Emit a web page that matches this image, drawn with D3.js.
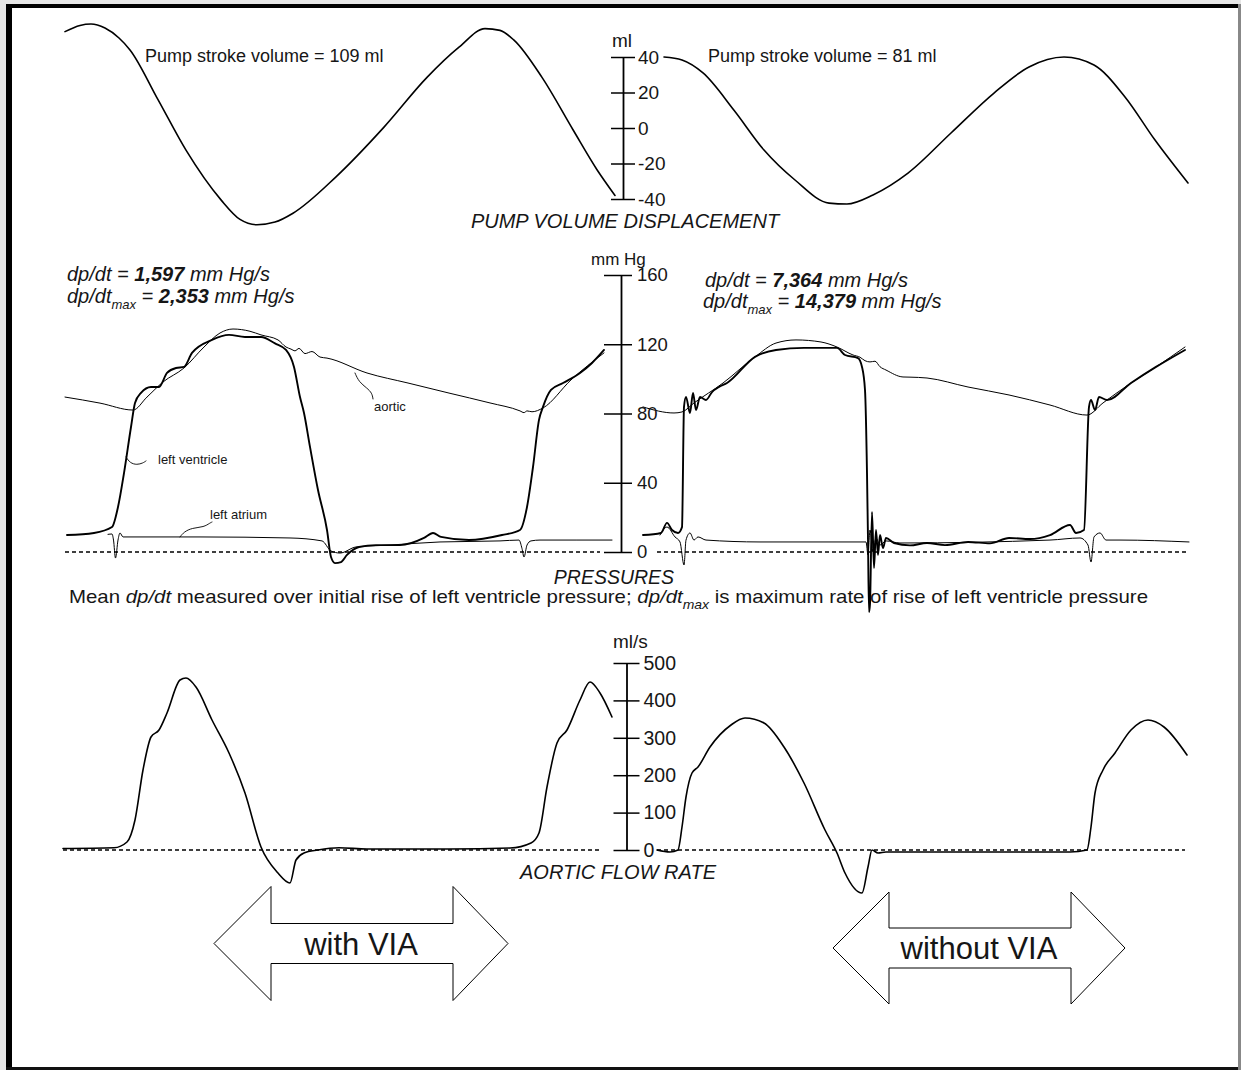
<!DOCTYPE html>
<html><head><meta charset="utf-8">
<script src="https://cdn.jsdelivr.net/npm/d3@7"></script>
<style>
body{margin:0;background:#fff}
svg{display:block}
text{font-family:"Liberation Sans",Arial,Helvetica,sans-serif;fill:#161616}
</style>
</head><body>
<svg id="c" width="1241" height="1070"></svg>
<script>
// ---------- DATA (time in ms within each recording window) ----------
const volTicks = [-40, -20, 0, 20, 40];
const pressTicks = [0, 40, 80, 120, 160];
const flowTicks = [0, 100, 200, 300, 400, 500];

// Pump volume displacement (ml)
const volWith = [[10,54.3],[40,57.8],[62,58.6],[90,56.3],[118,50.7],[140,44],[196,16],[252,-12.5],[322,-40.5],[360,-51.5],[394,-54.5],[430,-53],[466,-48],[552,-27.5],[648,0.5],[734,28.5],[798,45.5],[850,56],[880,55],[908,49.5],[964,28.5],[1026,-1],[1074,-23.5],[1110,-38]];
const volWithout = [[68,40],[104,38.3],[146,31],[208,10],[268,-12.4],[330,-29.3],[398,-42.3],[434,-42.8],[486,-37.7],[556,-25.4],[642,-2.8],[728,19.7],[798,34.4],[868,40],[928,35.5],[990,17.5],[1050,-6.8],[1116,-31]];

// Pressures (mm Hg) - with VIA
const aorticWith = [[10,89.5],[80,86],[146,82],[174,89.5],[206,98.2],[248,106.3],[288,118.4],[320,126.5],[346,128.8],[380,127.5],[402,125.4],[436,122.5],[452,118.4],[462,117.2],[470,116.2],[478,117.6],[490,114.6],[504,115.8],[520,112.6],[534,112],[614,103.4],[696,97.6],[778,91.8],[860,86.1],[920,81.5],[928,80.5],[934,81.5],[944,81],[966,83.2],[1022,99.4],[1088,115]];
const lvWith = [[14,9.8],[68,11],[104,14.4],[116,26],[128,45.6],[142,72.2],[150,86.1],[162,91.9],[182,95.3],[198,95.3],[214,103.4],[232,106.3],[248,106.9],[264,115],[304,122.5],[338,125.4],[370,124.2],[402,124.2],[430,120.5],[452,116.7],[468,106.9],[480,89.5],[488,80.3],[500,60.7],[516,35.8],[534,12.7],[542,-2.9],[550,-6.4],[562,-5.8],[574,-1.7],[598,2.9],[632,4],[680,4],[728,8.1],[746,11],[762,8.7],[818,6.9],[884,9.8],[920,12.7],[934,26],[946,49.1],[958,76.3],[966,83.8],[982,93.6],[1006,97.6],[1040,103.4],[1064,109.2],[1088,116.7]];
const laWith = [[96,10.2],[104,10.4],[107,6.9],[111,-3.5],[116,6.9],[120,11],[126,8.7],[280,8.7],[460,8.1],[524,6.4],[542,0.6],[560,-0.6],[592,2.9],[660,4],[760,5.8],[880,6.4],[918,6.9],[924,2],[928,-2.9],[934,4],[942,6.4],[960,6.9],[1104,6.9]];

// Pressures (mm Hg) - without VIA
const aorticWithout = [[26,83.8],[88,80.3],[104,80.9],[128,86.1],[186,97.6],[250,112.7],[292,120.7],[332,122.5],[382,121.3],[414,118.4],[446,113.8],[460,112.5],[470,110.5],[480,109.8],[490,110.2],[500,107],[512,105.1],[546,101.1],[560,101],[594,100.5],[676,95.3],[758,90.7],[840,84.9],[914,79.1],[946,86.1],[1002,97.6],[1052,106.9],[1110,118.4]];
const lvWithout = [[26,9.8],[62,11],[74,16.8],[84,12.7],[96,11],[104,14.4],[108,83.8],[112,89.5],[120,80.3],[126,91.9],[132,82],[140,89.5],[152,87.8],[164,92.4],[178,95.3],[194,97.6],[250,112.7],[292,116.7],[348,117.9],[414,117.9],[430,113.8],[456,112],[464,106.9],[470,93.6],[474,45.6],[476,6.9],[478,-34.7],[480,-30],[484,23.1],[488,-9.2],[492,12.7],[496,-1.7],[500,9.8],[506,2.3],[512,8.1],[528,5.2],[560,3.8],[594,5.2],[630,4],[676,5.8],[720,5],[758,8.1],[800,7.5],[840,9.8],[880,15.6],[892,11],[908,12.7],[918,83.8],[922,87.8],[930,82],[938,89.5],[954,87.8],[1002,97.6],[1052,106.9],[1110,116.7]];
const laWithout = [[60,9.8],[74,14.4],[90,8.7],[100,5.8],[108,-7.5],[112,6.9],[120,11],[128,6.9],[136,8.7],[152,6.9],[260,5.8],[472,5.8],[476,-1.7],[480,12.7],[486,0],[492,8.1],[500,4],[512,6.4],[540,5.2],[840,6.9],[900,8.1],[916,4],[922,-5.8],[928,8.7],[940,11],[952,6.9],[980,6.9],[1118,5.8]];

// Aortic flow rate (ml/s)
const flowWith = [[6,4],[108,6],[134,21.4],[150,80.2],[166,213.9],[182,302.1],[198,320.9],[214,366.3],[240,454.5],[252,459.9],[272,435.8],[304,347.6],[338,259.4],[370,152.4],[402,8],[436,-61.5],[460,-88.2],[472,-26.7],[488,-8],[516,0],[558,6],[614,2.7],[778,2.7],[900,5.3],[942,18.7],[958,45.5],[974,168.4],[994,286.1],[1014,320.9],[1040,401.1],[1060,449.2],[1080,419.8],[1104,355.6]];
const flowWithout = [[54,0],[80,-5.3],[96,0],[104,61.5],[112,141.7],[124,205.9],[136,221.9],[160,275.4],[202,334.2],[230,352.9],[268,339.6],[308,275.4],[348,179.1],[390,53.5],[414,-8],[430,-61.5],[464,-115],[476,-45.5],[484,0],[496,-8],[512,-5.3],[594,-5.3],[758,-5.3],[880,-5.3],[914,0],[922,61.5],[930,152.4],[946,213.9],[970,259.4],[1002,320.9],[1036,347.6],[1068,328.9],[1114,254]];

// zero reference spans (ms)
const zeroPressWith = [10, 1080], zeroPressWithout = [54, 1114];
const zeroFlowWith = [6, 1080], zeroFlowWithout = [54, 1110];

// annotations (left window)
const aorticLeader = [[590,103.4],[598,98.2],[614,94.7],[624,91.8],[626,88.4]];
const lvLeader = [[132,54.9],[140,51.4],[154,50.3],[166,51.4],[172,52.6]];
const laLeader = [[240,8.7],[248,11.6],[264,13.9],[288,14.4],[300,16.8],[304,17.3]];
const annLabels = [{t:628,p:81.5,text:"aortic"},{t:196,p:50.8,text:"left ventricle"},{t:300,p:19,text:"left atrium"}];

// ---------- CHART ----------
const svg = d3.select('#c');
svg.append('rect').attr('width',1241).attr('height',1070).attr('fill','#fff');

const xL = d3.scaleLinear().domain([0,1100]).range([60,610]);
const xR = d3.scaleLinear().domain([0,1120]).range([630,1190]);
const yVol = d3.scaleLinear().domain([-40,40]).range([199,57]);
const yP = d3.scaleLinear().domain([0,160]).range([552,275]);
const yF = d3.scaleLinear().domain([0,500]).range([850,663]);

function trace(x, y, data, w, curve) {
  const line = d3.line().x(d=>x(d[0])).y(d=>y(d[1])).curve(curve || d3.curveMonotoneX);
  return svg.append('path').datum(data).attr('d', line)
    .attr('fill','none').attr('stroke','#000').attr('stroke-width',w)
    .attr('stroke-linejoin','round').attr('stroke-linecap','round');
}
function zero(x, y, span) {
  svg.append('line').attr('x1',x(span[0])).attr('x2',x(span[1]))
    .attr('y1',y(0)).attr('y2',y(0))
    .attr('stroke','#000').attr('stroke-width',1.3).attr('stroke-dasharray','4,3');
}
function axis(x0, y, ticks, left, right, pad, fs) {
  const g = svg.append('g').attr('transform',`translate(${x0},0)`)
    .call(d3.axisRight(y).tickValues(ticks).tickSize(right).tickSizeOuter(0)
      .tickPadding(pad).tickFormat(d=>String(d)));
  g.attr('font-family',null).attr('font-size',null);
  g.select('.domain').attr('stroke','#000').attr('stroke-width',1.8);
  g.selectAll('.tick line').attr('x1',-left).attr('stroke','#000').attr('stroke-width',1.5);
  g.selectAll('.tick text').attr('font-size',fs).attr('fill','#161616');
}
function txt(x, y, s, fs, opts) {
  opts = opts || {};
  const t = svg.append('text').attr('x',x).attr('y',y).attr('font-size',fs).text(s);
  if (opts.italic) t.attr('font-style','italic');
  if (opts.anchor) t.attr('text-anchor',opts.anchor);
  return t;
}

// frame
svg.append('rect').attr('x',0).attr('y',0).attr('width',6).attr('height',1070).attr('fill','#e6e6e6');
svg.append('rect').attr('x',0).attr('y',0).attr('width',1241).attr('height',4).attr('fill','#e6e6e6');
svg.append('rect').attr('x',6).attr('y',4).attr('width',1235).attr('height',4).attr('fill','#000');
svg.append('rect').attr('x',6).attr('y',4).attr('width',6).attr('height',1066).attr('fill','#000');
svg.append('rect').attr('x',6).attr('y',1067).attr('width',1235).attr('height',3).attr('fill','#111');
svg.append('rect').attr('x',1238).attr('y',4).attr('width',3).attr('height',1066).attr('fill','#888');

// ---- pump volume ----
trace(xL, yVol, volWith, 1.6);
trace(xR, yVol, volWithout, 1.6);
axis(623, yVol, volTicks, 12, 12, 3, 19);
txt(612, 47, 'ml', 19);
txt(145, 62, 'Pump stroke volume = 109 ml', 18);
txt(708, 62, 'Pump stroke volume = 81 ml', 18);
txt(625, 228, 'PUMP VOLUME DISPLACEMENT', 20, {italic:true, anchor:'middle'});

// ---- pressures ----
zero(xL, yP, zeroPressWith);
zero(xR, yP, zeroPressWithout);
trace(xL, yP, aorticWith, 1.0);
trace(xL, yP, laWith, 1.0);
trace(xL, yP, lvWith, 1.9);
trace(xR, yP, aorticWithout, 1.0);
trace(xR, yP, laWithout, 1.0);
trace(xR, yP, lvWithout, 1.9);
axis(621, yP, pressTicks, 17, 11, 5, 18.5);
txt(591, 265, 'mm Hg', 17);

// annotations
[aorticLeader, lvLeader, laLeader].forEach(d => trace(xL, yP, d, 0.9, d3.curveBasis));
annLabels.forEach(a => txt(xL(a.t), yP(a.p), a.text, 13));

function dpLine(x, y, sub, num) {
  const t = svg.append('text').attr('x',x).attr('y',y).attr('font-size',20).attr('font-style','italic');
  t.append('tspan').text('dp/dt');
  if (sub) {
    t.append('tspan').attr('font-size',13).attr('dy',6).text('max');
    t.append('tspan').attr('dy',-6).text(' = ');
  } else {
    t.append('tspan').text(' = ');
  }
  t.append('tspan').attr('font-weight','bold').text(num);
  t.append('tspan').text(' mm Hg/s');
}
dpLine(67, 281, false, '1,597');
dpLine(67, 303, true, '2,353');
dpLine(705, 287, false, '7,364');
dpLine(703, 308, true, '14,379');

txt(614, 584, 'PRESSURES', 19.5, {italic:true, anchor:'middle'});
{
  const t = svg.append('text').attr('x',69).attr('y',603).attr('font-size',19)
    .attr('textLength',1079).attr('lengthAdjust','spacingAndGlyphs');
  t.append('tspan').text('Mean ');
  t.append('tspan').attr('font-style','italic').text('dp/dt');
  t.append('tspan').text(' measured over initial rise of left ventricle pressure; ');
  t.append('tspan').attr('font-style','italic').text('dp/dt');
  t.append('tspan').attr('font-style','italic').attr('font-size',13).attr('dy',6).text('max');
  t.append('tspan').attr('dy',-6).text('  is maximum rate of rise of left ventricle pressure');
}

// ---- flow ----
zero(xL, yF, zeroFlowWith);
zero(xR, yF, zeroFlowWithout);
trace(xL, yF, flowWith, 1.6);
trace(xR, yF, flowWithout, 1.6);
axis(626.5, yF, flowTicks, 13, 13, 4, 19.5);
txt(613, 648, 'ml/s', 19);
txt(618, 879, 'AORTIC FLOW RATE', 20, {italic:true, anchor:'middle'});

// ---- block arrows ----
const arrows = [
  {x:xL, tipL:308, headL:422, headR:786, tipR:896, cy:943.5, hh:57, sh:20, label:'with VIA'},
  {x:xR, tipL:406, headL:518, headR:882, tipR:990, cy:948, hh:56, sh:20, label:'without VIA'}
];
arrows.forEach(a => {
  const X = a.x;
  const pts = [[X(a.tipL),a.cy],[X(a.headL),a.cy-a.hh],[X(a.headL),a.cy-a.sh],[X(a.headR),a.cy-a.sh],[X(a.headR),a.cy-a.hh],[X(a.tipR),a.cy],[X(a.headR),a.cy+a.hh],[X(a.headR),a.cy+a.sh],[X(a.headL),a.cy+a.sh],[X(a.headL),a.cy+a.hh]];
  svg.append('path').attr('d', d3.line()(pts)+'Z').attr('fill','#fff').attr('stroke','#000').attr('stroke-width',1);
  txt((X(a.tipL)+X(a.tipR))/2, a.cy+11, a.label, 31, {anchor:'middle'});
});
</script>
</body></html>
